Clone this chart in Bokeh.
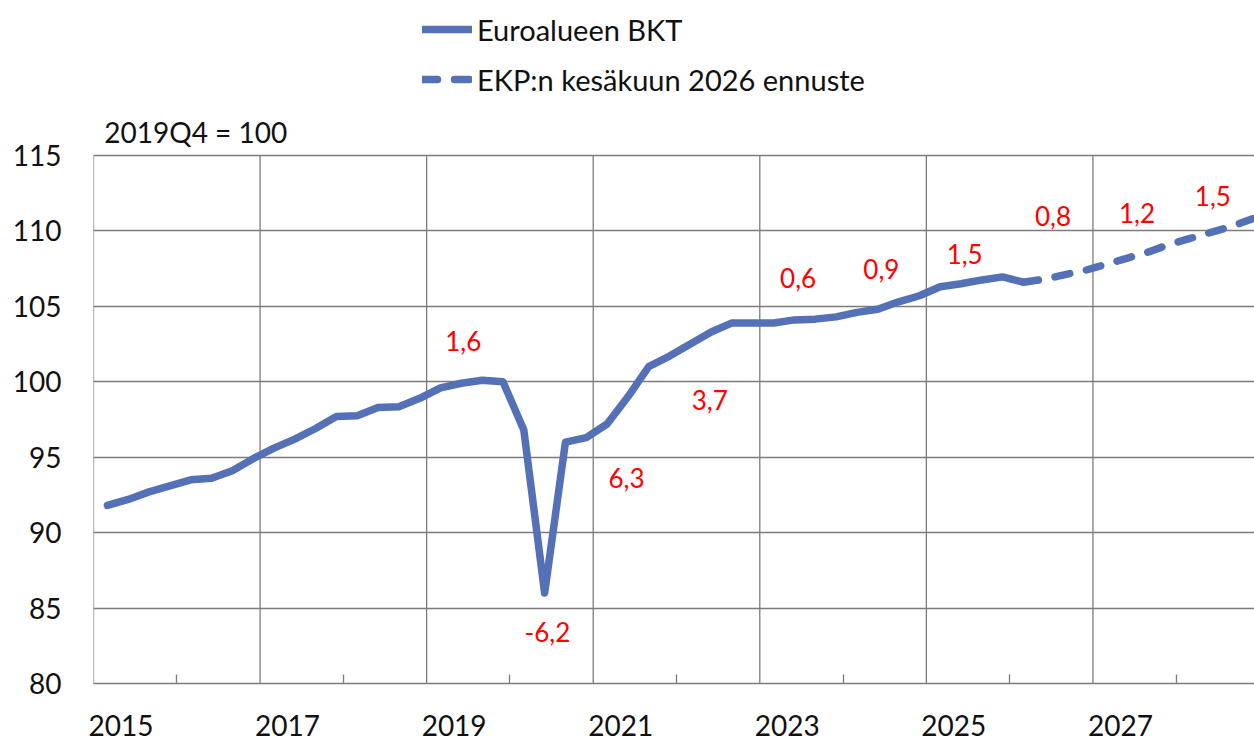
from bokeh.plotting import figure
from bokeh.models import FixedTicker, Legend, LegendItem, Range1d, ColumnDataSource, Label
from bokeh.embed import file_html
from bokeh.resources import INLINE
from bokeh.core.properties import value

# ---------------- data ----------------
actual_quarters = [f"{y}Q{q}" for y in range(2015, 2026) for q in (1, 2, 3, 4)] + ["2026Q1"]
actual_gdp = [
    91.8, 92.2, 92.7, 93.1,      # 2015
    93.5, 93.6, 94.1, 94.9,      # 2016
    95.6, 96.2, 96.9, 97.7,      # 2017
    97.75, 98.3, 98.35, 98.9,    # 2018
    99.6, 99.9, 100.1, 100.0,    # 2019
    96.8, 86.0, 96.0, 96.3,      # 2020
    97.2, 99.0, 101.0, 101.7,    # 2021
    102.5, 103.3, 103.9, 103.9,  # 2022
    103.9, 104.1, 104.15, 104.3, # 2023
    104.6, 104.8, 105.3, 105.7,  # 2024
    106.3, 106.5, 106.75, 106.95,# 2025
    106.6,                       # 2026Q1
]
forecast_quarters = ["2026Q1", "2026Q2", "2026Q3", "2026Q4",
                     "2027Q1", "2027Q2", "2027Q3", "2027Q4",
                     "2028Q1", "2028Q2", "2028Q3", "2028Q4"]
forecast_gdp = [106.6, 106.8, 107.1, 107.4,
                107.8, 108.2, 108.6, 109.1,
                109.5, 109.9, 110.3, 110.8]

# annual growth rates (%) written next to the curve
growth_labels = ["1,6", "-6,2", "6,3", "3,7", "0,6", "0,9", "1,5", "0,8", "1,2", "1,5"]
growth_label_x = [2019.44, 2020.45, 2021.40, 2022.40, 2023.46, 2024.46, 2025.46, 2026.52, 2027.53, 2028.44]
growth_label_y = [102.7, 83.4, 93.6, 98.8, 106.9, 107.5, 108.5, 111.0, 111.2, 112.3]

label_years = [2015, 2017, 2019, 2021, 2023, 2025, 2027]
minor_years = [2016, 2018, 2020, 2022, 2024, 2026, 2028]
y_ticks = [80, 85, 90, 95, 100, 105, 110, 115]

LINE = "#5470B6"
GRID = "#7c7c7c"
FONT = "Lato"
TXT = "#111111"


def qpos(qs):
    out = []
    for s in qs:
        y, q = s.split("Q")
        out.append(int(y) + (3 * int(q) - 1) / 12.0)
    return out


y_lo, y_hi = y_ticks[0], y_ticks[-1]

# the frame reaches the top of the canvas so that the legend can live inside it;
# the visible box (80..115) is drawn with grid lines / segments
p = figure(width=1254, height=741, output_backend="svg", toolbar_location=None,
           x_range=Range1d(2015, 2028.94), y_range=Range1d(y_lo, 125.27),
           min_border_left=93, min_border_right=0, min_border_top=0, min_border_bottom=58)
p.outline_line_color = None
p.background_fill_color = "white"
p.border_fill_color = "white"

# vertical grid lines (incl. left border), limited to the 80..115 box
p.segment(x0=label_years, y0=[y_lo] * len(label_years), x1=label_years, y1=[y_hi] * len(label_years),
          line_color=GRID, line_width=1.3)

src_a = ColumnDataSource(dict(x=qpos(actual_quarters), y=actual_gdp))
src_f = ColumnDataSource(dict(x=qpos(forecast_quarters), y=forecast_gdp))
r_a = p.line("x", "y", source=src_a, line_color=LINE, line_width=7.5, line_join="round", line_cap="round")
r_f = p.line("x", "y", source=src_f, line_color=LINE, line_width=7.5, line_join="round",
             line_cap="round", line_dash="15 17")

src_t = ColumnDataSource(dict(x=growth_label_x, y=growth_label_y, t=growth_labels))
p.text("x", "y", text="t", source=src_t, text_color="#ff0000", text_font=value(FONT),
       text_font_size=value("26px"), text_align="center", text_baseline="middle")

# x axis
label_pos = [yr + 0.33 for yr in label_years]
xa = p.xaxis[0]
xa.ticker = FixedTicker(ticks=label_pos, minor_ticks=minor_years)
xa.major_label_overrides = {pos: str(yr) for pos, yr in zip(label_pos, label_years)}
xa.major_tick_line_color = None
xa.minor_tick_in = 9
xa.minor_tick_out = 0
xa.minor_tick_line_color = GRID
xa.minor_tick_line_width = 1.3
xa.axis_line_color = GRID
xa.axis_line_width = 1.3
xa.major_label_text_font = FONT
xa.major_label_text_font_size = "28px"
xa.major_label_text_color = TXT
xa.major_label_standoff = 25

# y axis
ya = p.yaxis[0]
ya.ticker = FixedTicker(ticks=y_ticks)
ya.major_tick_line_color = None
ya.minor_tick_line_color = None
ya.axis_line_color = None
ya.major_label_text_font = FONT
ya.major_label_text_font_size = "28px"
ya.major_label_text_color = TXT
ya.major_label_standoff = 26

p.xgrid.visible = False
p.ygrid.ticker = FixedTicker(ticks=y_ticks)
p.ygrid.grid_line_color = GRID
p.ygrid.grid_line_width = 1.3

# subtitle
p.add_layout(Label(x=2015.13, y=y_hi + 0.45, text="2019Q4 = 100", text_font=FONT,
                   text_font_size="28px", text_color=TXT, text_baseline="bottom", text_align="left"))

legend = Legend(items=[LegendItem(label="Euroalueen BKT", renderers=[r_a]),
                       LegendItem(label="EKP:n kesäkuun 2026 ennuste", renderers=[r_f])],
                orientation="vertical", location=(329, 586), margin=0, padding=4,
                glyph_width=50, glyph_height=36, label_height=36, spacing=14,
                label_standoff=5, label_text_font=FONT, label_text_font_size="29px",
                label_text_color=TXT, border_line_color=None, background_fill_alpha=0)
p.add_layout(legend, "center")

open("out.html", "w").write(file_html(p, INLINE))
